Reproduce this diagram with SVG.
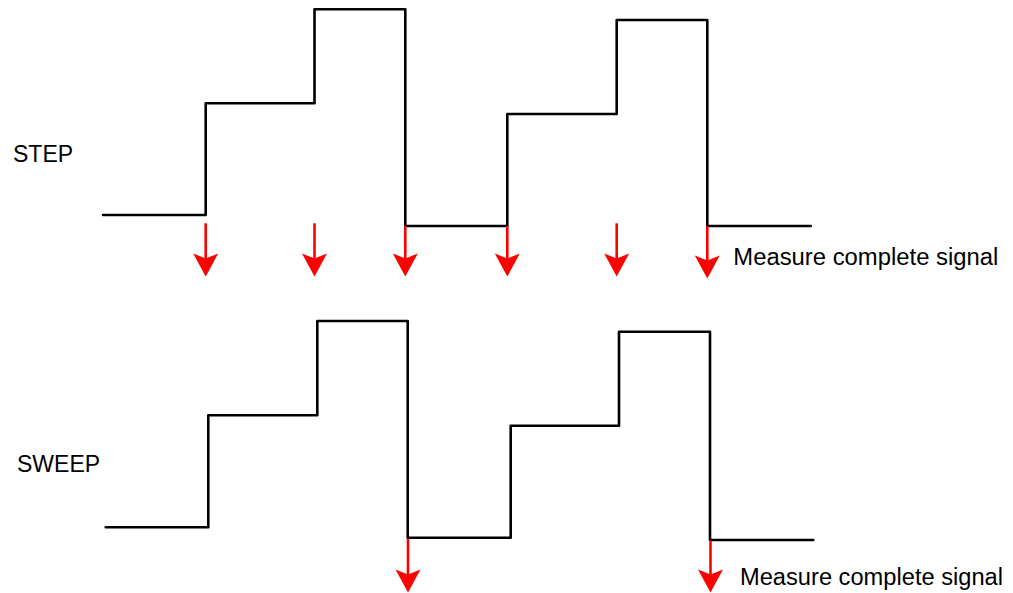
<svg xmlns="http://www.w3.org/2000/svg" width="1013" height="593" viewBox="0 0 1013 593">
<style>
.sig{fill:none;stroke:#000;stroke-width:2.6;stroke-linejoin:round;stroke-linecap:round}
.shaft{stroke:#f00;stroke-width:2.6;fill:none}
.head{fill:#f00;stroke:none}
.lbl{font-family:"Liberation Sans",Arial,sans-serif;font-size:23px;fill:#000}
</style>
<defs>
<path id="ah" d="M0,0 L-12.5,-23 L0,-18 L12.5,-23 Z"/>
</defs>
<rect width="1013" height="593" fill="#fff"/>
<g id="step-signal">
<polyline class="sig" points="103,215 205.7,215 205.7,103.3 314.5,103.3 314.5,9.3 405.3,9.3 405.3,226 507.3,226 507.3,114 616.7,114 616.7,20 707.3,20 707.3,226 810.7,226"/>
</g>
<g id="sweep-signal">
<polyline class="sig" points="105.7,527.3 208.3,527.3 208.3,415.3 317.3,415.3 317.3,321 407.7,321 407.7,537.7 510.7,537.7 510.7,425.7 619,425.7 619,331.7 710,331.7 710,540 813.3,540"/>
</g>
<g id="labels">
<text class="lbl" x="13" y="161.7">STEP</text>
<text class="lbl" x="17" y="472.3">SWEEP</text>
<text class="lbl" x="733.3" y="265" textLength="265" lengthAdjust="spacingAndGlyphs">Measure complete signal</text>
<text class="lbl" x="740" y="585" textLength="263" lengthAdjust="spacingAndGlyphs">Measure complete signal</text>
</g>
<g id="connectors">
<line class="shaft" x1="205.7" y1="223.3" x2="205.7" y2="262"/>
<use href="#ah" class="head" x="205.7" y="276.5"/>
<line class="shaft" x1="314.5" y1="223.3" x2="314.5" y2="262"/>
<use href="#ah" class="head" x="314.5" y="276.5"/>
<line class="shaft" x1="405.3" y1="226" x2="405.3" y2="262"/>
<use href="#ah" class="head" x="405.3" y="276.5"/>
<line class="shaft" x1="507.3" y1="226" x2="507.3" y2="262"/>
<use href="#ah" class="head" x="507.3" y="276.5"/>
<line class="shaft" x1="616.7" y1="223.3" x2="616.7" y2="262"/>
<use href="#ah" class="head" x="616.7" y="276.5"/>
<line class="shaft" x1="707.3" y1="226" x2="707.3" y2="264"/>
<use href="#ah" class="head" x="707.3" y="278.5"/>
<line class="shaft" x1="408" y1="538.5" x2="408" y2="578"/>
<use href="#ah" class="head" x="408" y="592.5"/>
<line class="shaft" x1="710.5" y1="540.5" x2="710.5" y2="578"/>
<use href="#ah" class="head" x="710.5" y="592.5"/>
</g>
</svg>
